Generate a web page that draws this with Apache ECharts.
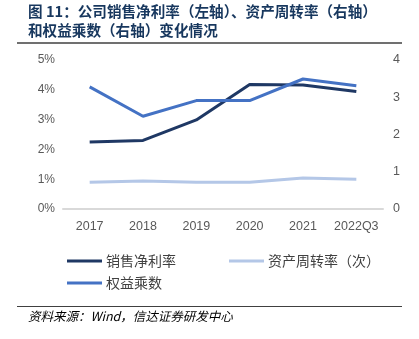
<!DOCTYPE html>
<html><head><meta charset="utf-8">
<script src="https://cdn.jsdelivr.net/npm/echarts@6/dist/echarts.min.js"></script>
<style>html,body{margin:0;padding:0;background:#fff}#c{width:419px;height:339px}</style>
</head><body><div id="c"></div>
<script>
const categories = ['2017','2018','2019','2020','2021','2022Q3'];
const netMargin = [2.25, 2.30, 2.99, 4.18, 4.16, 3.94];      // 销售净利率 (%), left axis
const assetTurnover = [0.72, 0.75, 0.72, 0.72, 0.83, 0.80];  // 资产周转率（次）, right axis
const equityMultiplier = [3.28, 2.49, 2.91, 2.91, 3.49, 3.31]; // 权益乘数, right axis
const leftTicks = [0, 1, 2, 3, 4, 5];
const rightTicks = [0, 1, 2, 3, 4];
const names = ['销售净利率', '资产周转率（次）', '权益乘数'];

const chart = echarts.init(document.getElementById('c'));
const font = '"Liberation Sans", Arial, "Noto Sans CJK SC", sans-serif';
const cjk = '"Noto Sans CJK SC", sans-serif';
const colors = ['#1F3864', '#B4C7E7', '#4472C4'];
function legendAt(name, left, top) {
  return { data: [name], left: left, top: top, itemWidth: 35, itemHeight: 3, itemGap: 0,
    icon: 'rect', textStyle: { fontFamily: cjk, fontSize: 14, color: '#404040', padding: [0,0,0,-1] } };
}
chart.setOption({
  animation: false,
  color: colors,
  graphic: [
    { type: 'text', left: 28, top: 4, style: { text: '图 11：公司销售净利率（左轴）、资产周转率（右轴）', font: 'bold 14.6px "Noto Sans CJK SC"', fill: '#17375E' } },
    { type: 'text', left: 28, top: 23, style: { text: '和权益乘数（右轴）变化情况', font: 'bold 14.6px "Noto Sans CJK SC"', fill: '#17375E' } },
    { type: 'line', shape: { x1: 17, y1: 43, x2: 402, y2: 43 }, style: { stroke: '#404040', lineWidth: 1.5 } },
    { type: 'line', shape: { x1: 17, y1: 306.5, x2: 402, y2: 306.5 }, style: { stroke: '#404040', lineWidth: 1 } },
    { type: 'text', left: 28, top: 310, style: { text: '资料来源：Wind，信达证券研发中心', font: 'italic 12.5px "Noto Sans CJK SC"', fill: '#000' } }
  ],
  grid: { left: 63, right: 36, top: 60, bottom: 130 },
  legend: [ legendAt(names[0], 62, 249), legendAt(names[1], 224, 249), legendAt(names[2], 62, 271) ],
  xAxis: { type: 'category', data: categories, boundaryGap: true,
    axisLine: { lineStyle: { color: '#D9D9D9', width: 2 } }, axisTick: { show: false },
    axisLabel: { color: '#595959', fontSize: 12.5, fontFamily: font, margin: 11, interval: 0 } },
  yAxis: [
    { type: 'value', min: leftTicks[0], max: leftTicks[leftTicks.length-1], interval: 1,
      axisLine: { show: false }, axisTick: { show: false }, splitLine: { show: false },
      axisLabel: { color: '#595959', fontSize: 12, fontFamily: font, margin: 8, formatter: '{value}%' } },
    { type: 'value', min: rightTicks[0], max: rightTicks[rightTicks.length-1], interval: 1,
      axisLine: { show: false }, axisTick: { show: false }, splitLine: { show: false },
      axisLabel: { color: '#595959', fontSize: 12.5, fontFamily: font, margin: 10 } }
  ],
  series: [
    { name: names[0], type: 'line', yAxisIndex: 0, data: netMargin, symbol: 'none', lineStyle: { width: 3, color: colors[0] } },
    { name: names[1], type: 'line', yAxisIndex: 1, data: assetTurnover, symbol: 'none', lineStyle: { width: 3, color: colors[1] } },
    { name: names[2], type: 'line', yAxisIndex: 1, data: equityMultiplier, symbol: 'none', lineStyle: { width: 3, color: colors[2] } }
  ]
});
</script></body></html>
